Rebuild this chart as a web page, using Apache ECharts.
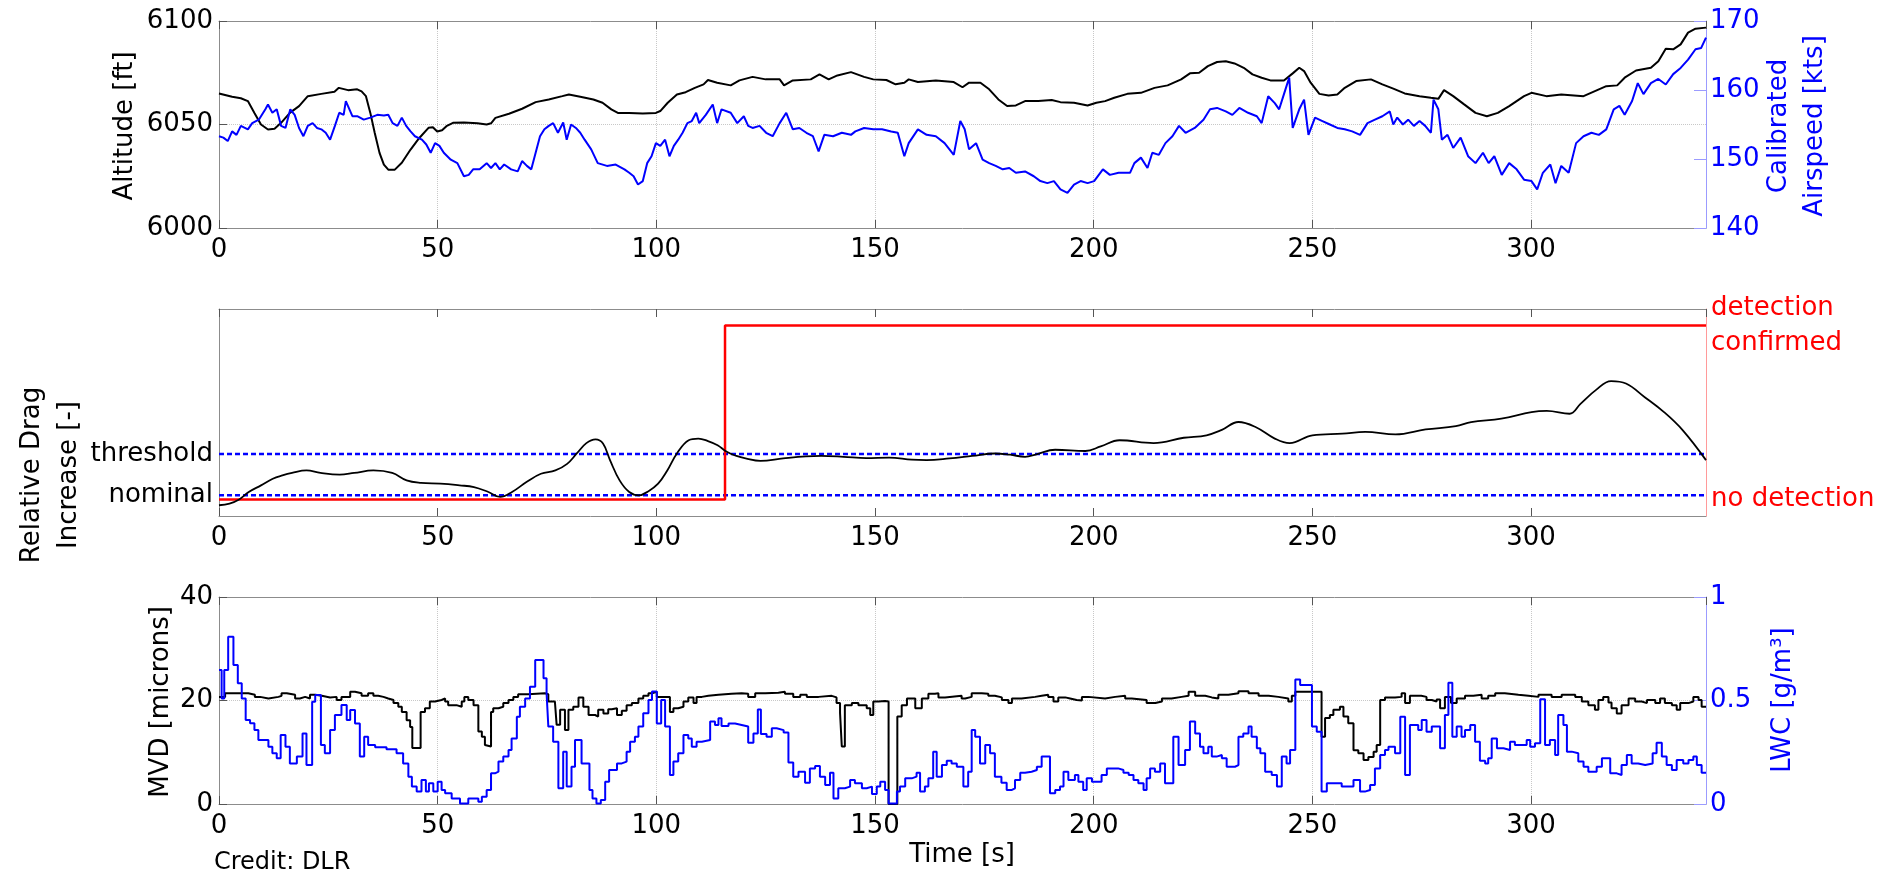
<!DOCTYPE html>
<html>
<head>
<meta charset="utf-8">
<script src="https://cdn.jsdelivr.net/npm/echarts@6/dist/echarts.min.js"></script>
<style>
  html, body { margin: 0; padding: 0; background: #fff; }
  #chart { width: 1885px; height: 876px; }
</style>
</head>
<body>
<div id="chart"></div>
<script>
// time axis [s]
var timeMin = 0, timeMax = 340, timeStep = 50;

// top panel: altitude [ft] and calibrated airspeed [kts]
var altitude = [[0,6065],[3,6063.4],[5,6062.7],[6.6,6061.3],[8.1,6055.6],[9.6,6050],[11.2,6047.6],[12.7,6048],[14.2,6050.8],[16.2,6055.6],[18.3,6058.9],[20.3,6063.7],[23.4,6064.8],[26.4,6065.8],[27.4,6067.7],[29.5,6066.6],[31.6,6067],[32.6,6066],[33.6,6063.7],[34.6,6055.6],[35.6,6046],[36.7,6036.3],[37.7,6030.6],[38.7,6028.2],[40.2,6028.2],[41.8,6031.5],[43.8,6037.9],[45.8,6043.5],[47.9,6048.4],[48.9,6048.7],[49.9,6046.6],[51,6047.2],[52,6049.2],[53.5,6050.8],[56,6051],[59.1,6050.6],[61.2,6050],[62.2,6050.6],[63.2,6053.2],[66.3,6055.2],[69.3,6057.6],[72.4,6060.8],[75.4,6062.1],[78.5,6063.7],[80,6064.5],[82.6,6063.4],[85.6,6062.1],[87.7,6060.5],[89.7,6057.3],[91.2,6055.6],[93.8,6055.6],[96.9,6055.3],[99.9,6055.6],[100.9,6056.5],[102.6,6060.5],[104.7,6064.5],[106.7,6065.6],[108.8,6067.7],[110.8,6069.4],[111.8,6071.5],[113.9,6070.2],[117,6068.9],[119,6071.3],[122,6073],[125,6071.8],[128.2,6071.8],[129.2,6068.9],[131.2,6071.3],[135.3,6071.8],[137.3,6074.2],[139.4,6071.8],[141.4,6073.7],[144.5,6075.3],[147.5,6073],[149.6,6071.8],[152.6,6071.5],[154.7,6069.4],[156.7,6070.2],[157.7,6071.8],[159.8,6070.5],[163.9,6071.3],[168,6070.5],[170,6068],[171.5,6070.2],[174.1,6070.2],[176.1,6067],[178.2,6062.1],[180.2,6058.9],[182.2,6059.2],[184.3,6061.3],[187.3,6061.3],[190.4,6061.8],[192.4,6060.8],[195.5,6060.5],[198.6,6059.2],[200.6,6060.5],[202.6,6061.3],[204.7,6062.9],[207.7,6064.8],[210.8,6065.3],[213.9,6067.7],[216.9,6068.9],[220,6071.8],[222,6074.7],[224.1,6075],[226.1,6078.2],[228.2,6080.2],[230.2,6080.6],[232.2,6079.5],[234.3,6077.4],[236.3,6074.2],[238.4,6072.6],[240.4,6071.3],[243.5,6071.3],[245.5,6074.7],[247,6077.4],[248.1,6075.8],[249.6,6070.2],[251.6,6064.8],[253.7,6064],[255.7,6064.5],[257.4,6067.7],[260,6071],[263.4,6071.8],[266,6069.4],[268.5,6067.3],[271.1,6065],[274.5,6063.7],[277.1,6062.9],[278.8,6062.4],[280.1,6066.6],[282.2,6063.7],[284.7,6059.7],[287.3,6055.6],[289.9,6054],[292.4,6055.6],[295,6058.9],[298.4,6063.7],[300.1,6065.3],[303.5,6063.7],[306.9,6064.5],[312,6063.7],[314.6,6066.1],[317.2,6068.5],[319.7,6068.9],[321.4,6072.6],[324,6076.1],[327.4,6077.4],[329.1,6080.6],[330.8,6086.6],[332.5,6086.3],[334.2,6088.7],[335.9,6094.4],[337.6,6096.3],[340,6096.8]];

var airspeed = [[0,153.3],[1,153.1],[2,152.6],[3,154.0],[4,153.5],[5,154.8],[6.6,154.3],[7.6,155.2],[9.1,155.7],[10.6,157.2],[11.2,157.9],[12.2,156.7],[13.2,157.2],[14.2,154.8],[15.2,154.5],[16.3,157.2],[17.3,156.4],[18.3,154.5],[19.3,153.3],[20.3,154.8],[21.4,155.2],[22.4,154.5],[23.4,154.3],[24.4,153.8],[25.4,152.8],[26.5,154.8],[27.5,156.7],[28.5,156.4],[29,158.4],[30.5,156.2],[31.6,156.2],[33.1,155.7],[34.6,156.0],[36.2,156.4],[37.7,156.3],[38.7,156.4],[39.7,155.2],[40.8,154.8],[41.8,156.0],[42.8,154.8],[43.8,154.0],[44.8,153.3],[46.4,152.8],[47.4,152.1],[48.4,150.9],[49.4,152.3],[50.4,151.9],[51.4,150.9],[53,149.9],[54.5,149.4],[56,147.5],[57.1,147.7],[58.1,148.5],[59.6,148.5],[61.2,149.4],[62.2,148.7],[63.2,149.4],[64.2,148.5],[65.2,149.2],[66.8,148.5],[68.3,148.2],[69.3,149.7],[70.4,149.0],[71.4,148.5],[72.4,150.9],[73.4,153.3],[74.4,154.3],[75.4,154.8],[76.4,155.2],[77.5,153.8],[78.7,155.3],[79.5,152.8],[80.5,155.0],[81.6,154.5],[82.6,153.8],[83.6,152.8],[85.1,151.4],[86.6,149.4],[88.7,149.0],[90.7,149.2],[92.7,148.5],[93.8,148.0],[94.8,147.5],[95.8,146.3],[96.9,146.8],[97.9,149.4],[98.9,150.4],[99.9,152.3],[100.9,151.9],[102,152.8],[103,150.4],[104,151.9],[105,152.8],[106,153.8],[107.1,155.2],[108.1,155.5],[109.1,156.7],[109.8,155.2],[111.3,156.4],[112.9,157.9],[113.9,155.2],[114.9,157.2],[117,156.7],[118.5,155.2],[120,156.2],[121,154.8],[122,154.5],[123.6,154.8],[125.1,153.8],[126.6,153.3],[128.2,155.2],[129.7,156.7],[131.2,154.3],[132.7,154.5],[134.3,153.8],[135.8,153.3],[137.1,151.1],[138.4,153.5],[140.4,153.3],[142.4,153.8],[144.5,153.5],[145.5,154.0],[147.5,154.5],[149.6,154.3],[151.6,154.3],[153.7,154.0],[155.2,153.8],[156.7,150.4],[157.7,152.3],[159.8,154.3],[161.8,153.5],[163.9,153.3],[165.9,152.3],[168,150.6],[169.5,155.5],[170.5,154.3],[171.5,151.4],[173.1,152.3],[174.6,149.9],[176.1,149.4],[177.6,149.0],[179.2,148.5],[180.7,148.7],[182.2,148.0],[184.3,148.2],[186.3,147.5],[187.8,146.8],[189.4,146.5],[190.9,146.8],[192.4,145.6],[194,145.1],[195.5,146.3],[197,146.8],[198.6,146.5],[200.1,146.8],[202.1,148.5],[203.7,147.7],[205.7,148.0],[208.3,148.0],[209.3,149.4],[210.8,150.2],[212.3,148.7],[213.4,150.9],[214.9,150.6],[216.4,152.3],[218,153.3],[219.5,154.8],[221,153.8],[223.1,154.5],[225.1,155.7],[226.6,157.2],[228.2,157.4],[230.2,156.9],[231.7,156.4],[233.3,157.4],[235.3,156.7],[237.3,156.2],[238.4,155.2],[239.9,159.1],[241.4,158.1],[242.4,157.2],[243.5,159.4],[244.7,161.8],[245.5,154.5],[247,157.2],[248.1,158.6],[249.1,153.5],[250.6,156.0],[252.3,155.5],[254,155.0],[255.7,154.5],[257.4,154.3],[259.1,154.0],[260.9,153.5],[262.6,155.2],[264.3,155.7],[266,156.2],[267.7,156.9],[268.5,155.0],[269.4,156.0],[270.7,155.0],[271.9,155.7],[273.2,154.8],[274.5,155.5],[275.8,154.8],[277.1,153.8],[277.7,158.6],[278.8,157.2],[279.6,152.8],[280.9,153.5],[282.2,151.6],[283.9,153.1],[285.6,150.4],[287.3,149.4],[289,150.9],[290.3,149.4],[291.6,150.4],[293.3,147.7],[295,149.4],[296.7,148.5],[298.4,147.0],[300.1,146.8],[301.4,145.6],[302.7,148.0],[304.4,149.2],[305.6,146.5],[306.9,149.0],[308.6,148.0],[310.3,152.3],[312,153.3],[313.8,153.8],[315.5,153.5],[317.2,154.3],[318.9,157.2],[320.2,157.7],[321.4,156.4],[323.1,158.4],[324.4,161.0],[325.7,159.4],[327.4,161.0],[329.1,161.6],[330.8,160.8],[332.5,162.3],[334.2,163.2],[335.9,164.4],[337.6,165.9],[338.9,166.1],[340,167.6]];

// middle panel: relative drag increase [-] and detection state
var dragIncrease = [[0,-0.24],[2.4,-0.2],[4.6,-0.1],[6.8,0.08],[9.6,0.24],[12.3,0.4],[14.5,0.48],[16.7,0.54],[20,0.6],[23.2,0.54],[27.6,0.5],[30.9,0.54],[35.3,0.6],[39.6,0.54],[42.9,0.36],[46.2,0.3],[50.6,0.28],[55,0.24],[58.3,0.2],[61.6,0.08],[64.3,-0.04],[67,0.08],[70.3,0.32],[73.6,0.52],[76.9,0.6],[79.6,0.76],[81.8,1.01],[84,1.26],[86.1,1.35],[87.8,1.25],[89.4,0.85],[91.6,0.36],[93.8,0.08],[96,0],[98.2,0.1],[100.4,0.28],[102.5,0.6],[104.7,1.01],[107.4,1.33],[109.6,1.37],[111.8,1.31],[114,1.21],[116.1,1.05],[118.3,0.95],[120.4,0.89],[123.8,0.83],[129,0.89],[134.2,0.94],[137.7,0.95],[142.8,0.93],[148,0.9],[153.2,0.91],[158.4,0.86],[161.8,0.85],[167,0.89],[172.2,0.95],[177.4,1.01],[180.9,0.98],[184.3,0.93],[186.9,0.99],[191.2,1.1],[198.1,1.07],[201.6,1.18],[205.9,1.33],[213.7,1.26],[220.6,1.39],[225.8,1.45],[229.3,1.58],[233.1,1.77],[237,1.65],[241.4,1.37],[244.8,1.26],[250,1.45],[256.9,1.49],[262.1,1.53],[269,1.47],[275.9,1.59],[282.8,1.67],[286.3,1.77],[293.2,1.85],[300.1,2.01],[303.6,2.04],[308.8,1.97],[311.3,2.21],[314.8,2.54],[318.3,2.76],[321.7,2.7],[326,2.37],[330.4,2.01],[334.7,1.57],[340,0.85]];
var detectionTime = 115.7;
var nominalLevel = 0, thresholdLevel = 1;
var noDetectionLevel = -0.1, detectionLevel = 4.1;
var dragLeftLabels = ['nominal', 'threshold'];
var dragRightLabels = ['no detection', 'detection\nconfirmed'];

// bottom panel: MVD [microns] and LWC [g/m3], step signals
var mvd = [[0,20.7],[1.4,21.4],[6.7,21.1],[8.2,20.7],[9.4,20.4],[11.3,20.7],[13.6,20.9],[14.3,21.4],[15.5,21.1],[17.4,20.4],[18.5,20.7],[19.7,20.4],[20.8,21.1],[22,20.9],[23.5,20.6],[25.4,20.7],[26.9,20.1],[28,20.7],[30,21.7],[31.1,21.4],[32.6,20.9],[34.1,21.4],[35.3,20.9],[36.4,20.7],[37.6,20.4],[38.7,20.1],[39.9,19.5],[41,18.8],[41.8,17.8],[42.9,16.2],[43.7,14.9],[44.2,10.8],[46.1,17.8],[47.1,18.5],[48.2,19.8],[49.4,20.1],[50.9,20.4],[51.7,19.8],[52.4,19.1],[54.3,18.8],[55.5,19.8],[56.1,20.7],[57,20.1],[58.2,19.1],[59.3,14],[60.1,13],[60.8,11.4],[61.2,11.1],[62.2,17.8],[62.7,18.5],[63.9,18.8],[65,19.5],[66.2,20.1],[67.3,20.7],[68.4,21.2],[70.7,21.4],[74.5,21.2],[75.3,19.8],[76.8,19.5],[77.2,15.3],[78,18.2],[79.1,14.3],[79.9,18.2],[81,18.8],[82.2,20.6],[83.3,18.8],[84.5,17.2],[86,16.9],[86.7,18.2],[87.9,17.5],[89,18.3],[89.8,18.5],[91,17.2],[92.1,18.0],[93.2,19.1],[94.4,19.5],[95.9,20.4],[97,20.9],[98.2,21.4],[99,21.7],[100.1,20.7],[103.1,17.8],[103.9,18.5],[105,18.8],[106.2,19.8],[107.3,20.6],[108.5,19.5],[109.2,20.7],[110.4,20.9],[111.9,21.1],[114.2,21.3],[117.2,21.4],[119.5,21.3],[121,20.7],[122.6,21.4],[124.9,21.5],[127.9,21.7],[129.4,21.3],[131.3,20.7],[132.9,21.1],[134.4,20.7],[137.1,20.9],[140.1,20.6],[141.2,19.5],[142,17.6],[142.4,11.1],[143.1,19.1],[144.7,19.5],[146.2,19.1],[148.1,18.5],[148.9,17.2],[149.6,19.8],[150.8,19.9],[152.3,19.8],[153.1,0],[155.1,16.9],[156.1,19.1],[157.3,20.4],[159.2,18.5],[160.7,20.4],[162.2,21.3],[163.7,21.4],[164.5,20.6],[166,20.9],[169.8,20.4],[170.6,20.7],[172.1,21.4],[174.4,21.3],[175.9,20.9],[177.4,20.6],[179,20.1],[180.5,19.5],[181.3,20.4],[183.5,20.7],[186.6,20.9],[188.1,21.1],[189.6,20.7],[190.8,19.8],[191.9,20.6],[193.5,20.4],[194.6,20.1],[196.1,20.0],[197.3,20.7],[198.8,20.4],[202.6,20.7],[204.9,20.9],[207.2,20.4],[208.7,20.1],[212.1,19.5],[214.1,19.8],[215.6,20.4],[217.8,20.7],[220.1,20.9],[221.7,21.7],[223.2,20.9],[225.5,20.6],[227,20.4],[228.5,21.1],[230.8,21.4],[233.1,21.8],[235.4,21.4],[237.7,20.9],[240,20.7],[242.2,20.4],[244.5,19.8],[245.3,20.9],[246.1,21.7],[252.1,13.0],[252.9,16.6],[254,17.2],[254.8,18.2],[256.3,18.8],[257.1,16.9],[258.2,15.6],[259.4,10.4],[260.5,9.8],[261.7,8.5],[262.8,9.1],[264,10.1],[264.7,11.4],[265.5,20.1],[266.6,20.6],[268.9,20.7],[270.4,21.4],[271.2,19.5],[272.3,20.9],[274.9,20.7],[276.1,20.1],[277.3,19.8],[278.4,20.2],[279.2,18.5],[280.3,20.7],[281.7,19.5],[283,20.4],[284.9,20.9],[286.8,21.1],[288.7,20.4],[290.2,20.9],[291.8,21.4],[294,21.1],[297.1,20.9],[299.4,20.7],[301.7,21.1],[304.7,20.7],[307,21.1],[310.1,20.7],[311.6,19.8],[313.1,19.1],[314.6,18.2],[315.4,20.1],[316.5,20.7],[317.7,19.6],[318.4,18.5],[319.6,17.5],[320.7,19.1],[322.3,20.4],[323.8,19.8],[325.3,19.5],[326.5,20.1],[328.4,19.5],[329.5,20.4],[330.6,19.5],[332.2,19.1],[333.3,18.2],[334.1,19.5],[336,19.8],[337.1,20.7],[338.3,20.1],[339,18.8],[340,18.8]];

var lwc = [[0,0.647],[0.6,0.51],[1.2,0.647],[2.1,0.808],[3.3,0.671],[4.3,0.583],[5.2,0.51],[6.1,0.406],[7.1,0.39],[8.1,0.357],[9,0.309],[11.3,0.277],[12.2,0.245],[13.2,0.221],[14.1,0.333],[15.2,0.277],[16.2,0.196],[17.8,0.229],[19.1,0.341],[20,0.188],[21.3,0.494],[22,0.527],[23.3,0.285],[24.2,0.245],[25.4,0.357],[26.5,0.43],[28,0.478],[29.2,0.406],[30,0.454],[31.1,0.389],[32.2,0.229],[33.2,0.325],[34.1,0.285],[35.7,0.274],[38.3,0.264],[40.6,0.245],[42.1,0.196],[43.3,0.132],[44.1,0.084],[45.2,0.06],[46.3,0.116],[47.3,0.06],[48,0.1],[49,0.06],[50,0.108],[50.9,0.068],[51.7,0.052],[53.2,0.027],[55.1,0.003],[57,0.027],[59.3,0.011],[60.1,0.035],[61.2,0.068],[62.2,0.148],[63.1,0.156],[63.9,0.205],[65,0.229],[66.2,0.261],[66.9,0.317],[68.1,0.422],[68.8,0.47],[70,0.51],[71.1,0.567],[72.3,0.696],[74.2,0.607],[74.9,0.535],[75.3,0.374],[76.4,0.301],[77.6,0.076],[78.7,0.253],[79.5,0.084],[80.6,0.18],[81.4,0.309],[82.9,0.196],[84.1,0.196],[84.7,0.068],[85.4,0.027],[86.3,0.003],[87.3,0.019],[88.3,0.108],[89.2,0.164],[91,0.196],[92.1,0.205],[93.2,0.253],[94,0.301],[95.1,0.325],[95.9,0.374],[97,0.438],[98.2,0.502],[99,0.543],[100.1,0.389],[101.1,0.502],[102,0.374],[103.1,0.14],[103.9,0.205],[105,0.245],[106.2,0.333],[107.3,0.317],[108.1,0.277],[109.2,0.301],[110.4,0.309],[112.3,0.398],[113.4,0.382],[114.2,0.414],[114.9,0.377],[116.5,0.389],[118,0.382],[119.5,0.374],[121,0.296],[122.2,0.341],[123.2,0.457],[123.9,0.338],[125.2,0.325],[126.4,0.366],[127.5,0.357],[129.1,0.345],[130.2,0.2],[131.3,0.132],[132.5,0.156],[134,0.103],[135.1,0.172],[136.3,0.184],[137.4,0.132],[138.6,0.092],[139.7,0.151],[140.5,0.027],[141.6,0.076],[143.1,0.084],[144.3,0.116],[145.4,0.1],[147,0.076],[148.1,0.084],[149.3,0.048],[150.4,0.084],[151.2,0.108],[152.3,0.068],[153.1,0.003],[155,0.06],[155.7,0.084],[156.9,0.124],[158.4,0.132],[159.5,0.151],[160.3,0.06],[161.4,0.084],[162.2,0.124],[163.3,0.253],[164.1,0.132],[165.3,0.188],[166.4,0.209],[167.5,0.196],[168.7,0.18],[170.2,0.084],[171.3,0.156],[172.1,0.357],[172.9,0.325],[174,0.196],[175.2,0.285],[176.3,0.245],[177.4,0.132],[178.9,0.103],[180.1,0.068],[181.3,0.076],[182,0.116],[183.2,0.151],[184.3,0.156],[185.8,0.164],[187,0.18],[188.1,0.229],[190,0.052],[191.2,0.068],[192.3,0.084],[193.1,0.156],[194.2,0.116],[195.7,0.14],[196.5,0.108],[197.6,0.068],[198.4,0.124],[199.6,0.108],[201.8,0.14],[203,0.172],[205.6,0.164],[206.8,0.151],[208,0.14],[209.1,0.116],[210.2,0.1],[211.4,0.068],[212.1,0.124],[212.9,0.172],[214,0.156],[215.2,0.196],[216.3,0.1],[218.2,0.325],[219.4,0.188],[220.9,0.261],[222,0.398],[223.2,0.341],[224.3,0.277],[225.1,0.245],[226.2,0.277],[227,0.229],[228.1,0.237],[229.3,0.221],[230.4,0.18],[232.3,0.188],[233.1,0.325],[234.2,0.341],[235.4,0.374],[236.1,0.325],[237.3,0.269],[238.1,0.245],[239.2,0.156],[240.7,0.14],[241.9,0.084],[243,0.229],[244.1,0.196],[244.9,0.261],[246.1,0.602],[247.2,0.575],[249.9,0.374],[251,0.349],[252.1,0.06],[253.3,0.1],[256.7,0.084],[259.4,0.116],[260.9,0.06],[262,0.068],[263.2,0.092],[264.3,0.172],[265.5,0.237],[266.6,0.261],[267.4,0.277],[268.9,0.245],[270.1,0.422],[271.2,0.14],[272.3,0.382],[274.2,0.357],[275,0.406],[276.1,0.349],[277.3,0.374],[279.2,0.269],[280.3,0.43],[281.1,0.586],[282,0.325],[283,0.374],[284.1,0.325],[284.9,0.357],[286.1,0.382],[287.2,0.301],[288.3,0.209],[289.5,0.196],[290.2,0.221],[291,0.317],[292.2,0.269],[293.7,0.261],[295.2,0.301],[296.3,0.285],[299,0.309],[299.8,0.277],[300.9,0.293],[302.1,0.506],[303.2,0.285],[304.3,0.309],[305.5,0.237],[306.2,0.43],[307.4,0.382],[308.2,0.253],[309.3,0.245],[310.8,0.205],[312,0.18],[313.1,0.156],[315,0.18],[316.2,0.221],[318.1,0.148],[319.6,0.14],[320.7,0.188],[321.9,0.237],[323,0.196],[324.5,0.188],[326.1,0.196],[327.8,0.245],[328.7,0.296],[329.9,0.229],[331,0.188],[332.2,0.164],[333.3,0.213],[334.8,0.196],[336,0.213],[337.1,0.229],[337.9,0.188],[339,0.151],[340,0.151]];

var FONT = 'DejaVu Sans';
var boxColor = '#8c8c8c';
var tickColor = '#555555';
var gridColor = '#c8c8c8';
var BLUE = '#0000ff';
var RED = '#ff0000';

function plain(v) { return String(v); }

function timeAxis(gridIndex, withGrid) {
  return {
    type: 'value', gridIndex: gridIndex, position: 'bottom',
    min: timeMin, max: timeMax, interval: timeStep,
    axisLine: { onZero: false, lineStyle: { color: boxColor, width: 1 } },
    axisTick: { inside: true, length: 8, lineStyle: { color: tickColor } },
    axisLabel: { color: '#000', fontSize: 26, fontFamily: FONT, margin: 9, showMaxLabel: false, formatter: plain },
    splitLine: { show: withGrid, lineStyle: { color: gridColor, type: 'dotted', width: 1 } }
  };
}
function topFrame(gridIndex) {
  return {
    type: 'value', gridIndex: gridIndex, position: 'top',
    min: timeMin, max: timeMax, interval: timeStep,
    axisLine: { onZero: false, lineStyle: { color: boxColor, width: 1 } },
    axisTick: { inside: true, length: 8, lineStyle: { color: tickColor } },
    axisLabel: { show: false },
    splitLine: { show: false }
  };
}
function pickLabel(v, values, names) {
  for (var i = 0; i < values.length; i++) {
    if (Math.abs(v - values[i]) < 1e-6) return names[i];
  }
  return '';
}

var chart = echarts.init(document.getElementById('chart'));
chart.setOption({
  animation: false,
  textStyle: { fontFamily: FONT },
  grid: [
    { left: 219, width: 1487, top: 21, height: 207 },
    { left: 219, width: 1487, top: 309, height: 207 },
    { left: 219, width: 1487, top: 597, height: 207 }
  ],
  xAxis: [
    timeAxis(0, true), topFrame(0),
    timeAxis(1, false), topFrame(1),
    timeAxis(2, true), topFrame(2)
  ],
  yAxis: [
    {
      type: 'value', gridIndex: 0, position: 'left', min: 6000, max: 6100, interval: 50,
      axisLine: { show: true, onZero: false, lineStyle: { color: boxColor } },
      axisTick: { show: true, inside: true, length: 8, lineStyle: { color: tickColor } },
      axisLabel: { color: '#000', fontSize: 26, fontFamily: FONT, margin: 6, formatter: plain },
      splitLine: { show: true, lineStyle: { color: gridColor, type: 'dotted' } }
    },
    {
      type: 'value', gridIndex: 0, position: 'right', min: 140, max: 170, interval: 10,
      axisLine: { show: true, onZero: false, lineStyle: { color: '#9b9bff' } },
      axisTick: { show: true, inside: true, length: 12, lineStyle: { color: '#9b9bff' } },
      axisLabel: { color: BLUE, fontSize: 26, fontFamily: FONT, margin: 4, formatter: plain },
      splitLine: { show: false }
    },
    {
      type: 'value', gridIndex: 1, position: 'left', min: -0.5, max: 4.5,
      axisLine: { show: true, onZero: false, lineStyle: { color: boxColor } },
      axisTick: { show: false },
      axisLabel: {
        color: '#000', fontSize: 26, fontFamily: FONT, margin: 6,
        customValues: [nominalLevel, thresholdLevel],
        formatter: function (v) { return pickLabel(v, [nominalLevel, thresholdLevel], dragLeftLabels); }
      },
      splitLine: { show: false }
    },
    {
      type: 'value', gridIndex: 1, position: 'right', min: -0.5, max: 4.5,
      axisLine: { show: true, onZero: false, lineStyle: { color: '#ff9a9a' } },
      axisTick: { show: false },
      axisLabel: {
        color: RED, fontSize: 26, fontFamily: FONT, margin: 5, lineHeight: 35,
        customValues: [noDetectionLevel, detectionLevel],
        formatter: function (v) { return pickLabel(v, [noDetectionLevel, detectionLevel], dragRightLabels); }
      },
      splitLine: { show: false }
    },
    {
      type: 'value', gridIndex: 2, position: 'left', min: 0, max: 40, interval: 20,
      axisLine: { show: true, onZero: false, lineStyle: { color: boxColor } },
      axisTick: { show: true, inside: true, length: 8, lineStyle: { color: tickColor } },
      axisLabel: { color: '#000', fontSize: 26, fontFamily: FONT, margin: 6, formatter: plain },
      splitLine: { show: true, lineStyle: { color: gridColor, type: 'dotted' } }
    },
    {
      type: 'value', gridIndex: 2, position: 'right', min: 0, max: 1, interval: 0.5,
      axisLine: { show: true, onZero: false, lineStyle: { color: '#9b9bff' } },
      axisTick: { show: true, inside: true, length: 12, lineStyle: { color: '#9b9bff' } },
      axisLabel: { color: BLUE, fontSize: 26, fontFamily: FONT, margin: 4, formatter: plain },
      splitLine: { show: false }
    }
  ],
  series: [
    { name: 'Altitude', type: 'line', xAxisIndex: 0, yAxisIndex: 0, data: altitude,
      showSymbol: false, lineStyle: { color: '#000', width: 2 } },
    { name: 'Calibrated Airspeed', type: 'line', xAxisIndex: 0, yAxisIndex: 1, data: airspeed,
      showSymbol: false, lineStyle: { color: BLUE, width: 2 } },

    { name: 'threshold', type: 'line', xAxisIndex: 2, yAxisIndex: 2,
      data: [[timeMin, thresholdLevel], [timeMax, thresholdLevel]],
      showSymbol: false, lineStyle: { color: BLUE, width: 2.5, type: [5, 3] } },
    { name: 'nominal', type: 'line', xAxisIndex: 2, yAxisIndex: 2,
      data: [[timeMin, nominalLevel], [timeMax, nominalLevel]],
      showSymbol: false, lineStyle: { color: BLUE, width: 2.5, type: [5, 3] } },
    { name: 'Detection', type: 'line', xAxisIndex: 2, yAxisIndex: 2, step: 'end',
      data: [[timeMin, noDetectionLevel], [detectionTime, detectionLevel], [timeMax, detectionLevel]],
      showSymbol: false, lineStyle: { color: RED, width: 2.5 } },
    { name: 'Relative Drag Increase', type: 'line', xAxisIndex: 2, yAxisIndex: 2, data: dragIncrease,
      smooth: 0.4, showSymbol: false, lineStyle: { color: '#000', width: 1.8 } },

    { name: 'MVD', type: 'line', xAxisIndex: 4, yAxisIndex: 4, data: mvd, step: 'end',
      showSymbol: false, lineStyle: { color: '#000', width: 2 } },
    { name: 'LWC', type: 'line', xAxisIndex: 4, yAxisIndex: 5, data: lwc, step: 'end',
      showSymbol: false, lineStyle: { color: BLUE, width: 2 } }
  ],
  graphic: [
    { type: 'text', x: 125, y: 126, rotation: Math.PI / 2,
      style: { text: 'Altitude [ft]', font: '26px "DejaVu Sans"', fill: '#000',
               align: 'center', verticalAlign: 'middle', textAlign: 'center', textVerticalAlign: 'middle' } },
    { type: 'text', x: 1797, y: 126, rotation: Math.PI / 2,
      style: { text: 'Calibrated\nAirspeed [kts]', font: '26px "DejaVu Sans"', fill: BLUE, lineHeight: 36,
               align: 'center', verticalAlign: 'middle', textAlign: 'center', textVerticalAlign: 'middle' } },
    { type: 'text', x: 51, y: 475, rotation: Math.PI / 2,
      style: { text: 'Relative Drag\nIncrease [-]', font: '26px "DejaVu Sans"', fill: '#000', lineHeight: 37,
               align: 'center', verticalAlign: 'middle', textAlign: 'center', textVerticalAlign: 'middle' } },
    { type: 'text', x: 161, y: 702, rotation: Math.PI / 2,
      style: { text: 'MVD [microns]', font: '26px "DejaVu Sans"', fill: '#000',
               align: 'center', verticalAlign: 'middle', textAlign: 'center', textVerticalAlign: 'middle' } },
    { type: 'text', x: 1783, y: 700, rotation: Math.PI / 2,
      style: { text: 'LWC [g/m\u00b3]', font: '26px "DejaVu Sans"', fill: BLUE,
               align: 'center', verticalAlign: 'middle', textAlign: 'center', textVerticalAlign: 'middle' } },
    { type: 'text', x: 962, y: 855,
      style: { text: 'Time [s]', font: '26px "DejaVu Sans"', fill: '#000',
               align: 'center', verticalAlign: 'middle', textAlign: 'center', textVerticalAlign: 'middle' } },
    { type: 'text', x: 214, y: 863,
      style: { text: 'Credit: DLR', font: '24px "DejaVu Sans"', fill: '#000',
               align: 'left', verticalAlign: 'middle', textAlign: 'left', textVerticalAlign: 'middle' } }
  ]
});
</script>
</body>
</html>
